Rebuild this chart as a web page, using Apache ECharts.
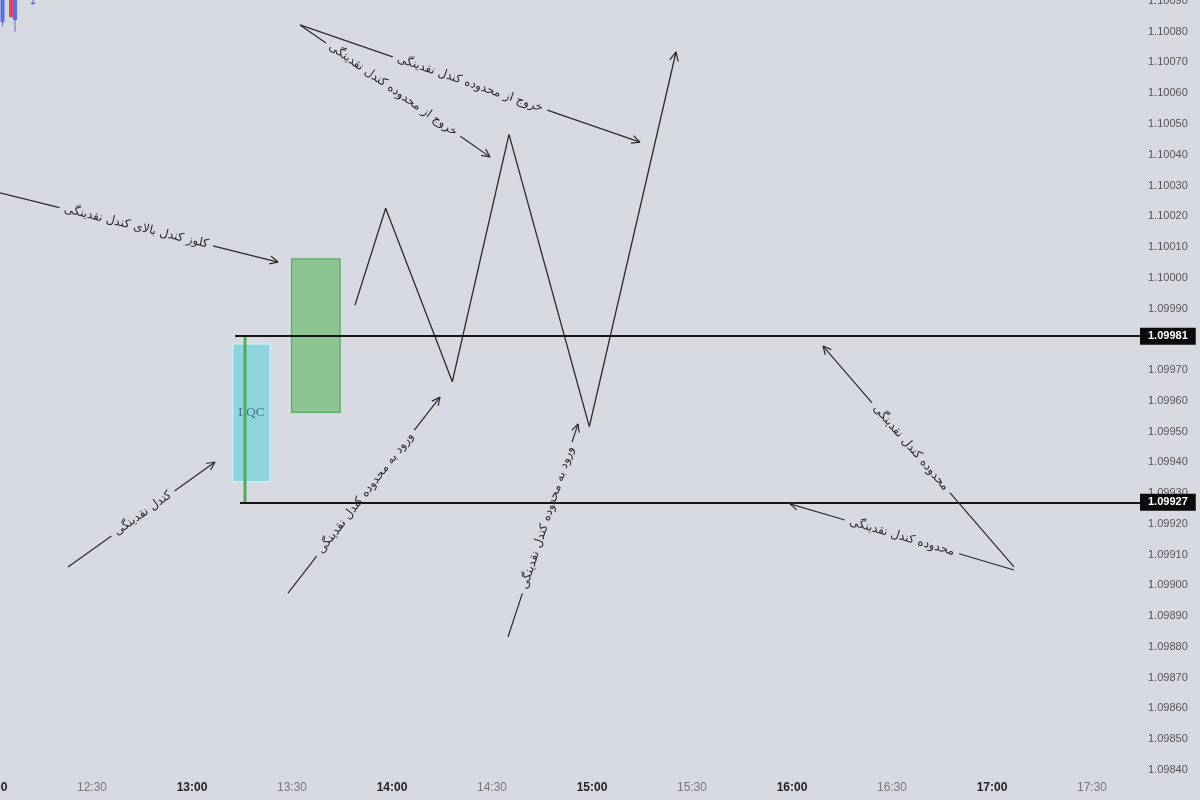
<!DOCTYPE html>
<html><head><meta charset="utf-8">
<script src="https://cdn.jsdelivr.net/npm/echarts@6/dist/echarts.min.js"></script>
<style>html,body{margin:0;padding:0;background:#d6d9e0}#c{width:1200px;height:800px}</style>
</head><body><div id="c"></div>
<script>
// Time values are minutes after 12:00
const timeLabels = ['12:00','12:30','13:00','13:30','14:00','14:30','15:00','15:30','16:00','16:30','17:00','17:30'];
const levelValues = [1.09981, 1.09927];
const levelStarts = [72.9, 74.4];
const levelEnd = 344.4;
const zigzagTimes  = [108.9, 118.1, 138.1, 155.1, 179.2, 205.2];
const zigzagPrices = [1.099911, 1.100226, 1.099662, 1.100466, 1.099516, 1.100734];
const candleTimes = [3.15, 5.7, 6.9, 12.3];
const candleOpen  = [1.100831, 1.10110, 1.100838, 1.100890];
const candleClose = [1.10110, 1.100848, 1.10110, 1.100895];
const candleLow   = [1.100818, 1.100845, 1.100800, 1.100887];
const candleHigh  = [1.10120, 1.10120, 1.10120, 1.10120];
const boxNames  = ['LQC', ''];
const boxFrom   = [72.2, 89.9];
const boxTo     = [83.4, 104.4];
const boxTop    = [1.099785, 1.100061];
const boxBottom = [1.099337, 1.099563];
const wickTime = 75.9;
const annotationTexts = [
  'کلوز کندل بالای کندل نقدینگی',
  'خروج از محدوده کندل نقدینگی',
  'خروج از محدوده کندل نقدینگی',
  'کندل نقدینگی',
  'ورود به محدوده کندل نقدینگی',
  'ورود به محدوده کندل نقدینگی',
  'محدوده کندل نقدینگی',
  'محدوده کندل نقدینگی'
];
const annotationFromTime  = [2.4, 92.4, 92.4, 22.8, 88.8, 154.8, 306.6, 306.6];
const annotationFromPrice = [1.100276, 1.100822, 1.100822, 1.099060, 1.098975, 1.098832, 1.099060, 1.099050];
const annotationToTime    = [85.8, 194.4, 149.4, 66.9, 134.4, 175.8, 249.3, 239.4];
const annotationToPrice   = [1.100051, 1.100441, 1.100393, 1.099401, 1.099612, 1.099525, 1.099778, 1.099265];
const annotationLabelAt   = [0.49, 0.5, 0.49, 0.51, 0.51, 0.56, 0.54, 0.5];

const ANN_FONT = '12px "DejaVu Sans"';
const mctx = document.createElement('canvas').getContext('2d');
mctx.font = ANN_FONT;
function measure(t){ return mctx.measureText(t).width; }
const INK = '#2b2b2b';
function seg(a, b, w){ return {type:'line', shape:{x1:a[0],y1:a[1],x2:b[0],y2:b[1]}, style:{stroke:INK, lineWidth:w||1.2}}; }
function head(p, ang, len){
  return [
    seg(p, [p[0]-len*Math.cos(ang-0.45), p[1]-len*Math.sin(ang-0.45)]),
    seg(p, [p[0]-len*Math.cos(ang+0.45), p[1]-len*Math.sin(ang+0.45)])
  ];
}

const chart = echarts.init(document.getElementById('c'));
const option = {
  backgroundColor: '#d6d9e0',
  animation: false,
  grid: {left: -8, right: 60, top: -29.84, bottom: -0.67, containLabel: false, outerBoundsMode: 'none'},
  xAxis: {
    type: 'value', min: 0, max: levelEnd, interval: 30, offset: -22,
    axisLine: {show: false}, axisTick: {show: false}, splitLine: {show: false},
    axisLabel: {
      margin: 3, showMinLabel: true, showMaxLabel: false, hideOverlap: false,
      formatter: function(v){
        const i = Math.round(v / 30);
        const s = timeLabels[i] || '';
        return (i % 2 === 0) ? '{b|' + s + '}' : '{n|' + s + '}';
      },
      rich: {
        b: {fontFamily: 'Liberation Sans', fontSize: 12, fontWeight: 'bold', color: '#222'},
        n: {fontFamily: 'Liberation Sans', fontSize: 12, color: '#777'}
      }
    }
  },
  yAxis: {
    type: 'value', position: 'right', min: 1.0983, max: 1.1010, interval: 0.0001,
    axisLine: {show: false}, axisTick: {show: false}, splitLine: {show: false},
    axisLabel: {
      margin: 8, showMinLabel: false, showMaxLabel: false,
      fontFamily: 'Liberation Sans', fontSize: 11, color: '#555',
      formatter: function(v){ return v.toFixed(5); }
    }
  },
  series: [
    {
      type: 'custom', name: 'candles', z: 2,
      data: candleTimes.map((t, i) => [t, candleOpen[i], candleClose[i], candleLow[i], candleHigh[i]]),
      renderItem: function(params, api){
        const t = api.value(0);
        const o = api.coord([t, api.value(1)]), c = api.coord([t, api.value(2)]);
        const l = api.coord([t, api.value(3)]), h = api.coord([t, api.value(4)]);
        const up = api.value(2) >= api.value(1);
        const col = up ? '#5a6ee6' : '#e0435f';
        const top = Math.min(o[1], c[1]), bot = Math.max(o[1], c[1]);
        return {type:'group', children:[
          {type:'line', shape:{x1:o[0], y1:h[1], x2:o[0], y2:l[1]}, style:{stroke:col, lineWidth:1}},
          {type:'rect', shape:{x:o[0]-2, y:top, width:4, height:Math.max(1, bot-top)}, style:{fill:col}}
        ]};
      }
    },
    {
      type: 'custom', name: 'boxes', z: 2,
      data: boxFrom.map((f, i) => [f, boxTop[i], boxTo[i], boxBottom[i]]),
      renderItem: function(params, api){
        const i = params.dataIndex;
        const a = api.coord([api.value(0), api.value(1)]);
        const b = api.coord([api.value(2), api.value(3)]);
        const isLqc = i === 0;
        const children = [{
          type:'rect',
          shape:{x:a[0], y:a[1], width:b[0]-a[0], height:b[1]-a[1]},
          style: isLqc ? {fill:'#8fd3df', stroke:'#c8edf3', lineWidth:1.5}
                       : {fill:'#8cc592', stroke:'#5fae6c', lineWidth:1.5}
        }];
        if (boxNames[i]) {
          children.push({type:'text', x:(a[0]+b[0])/2, y:(a[1]+b[1])/2,
            style:{text:boxNames[i], fill:'#3f7088', fontSize:13, fontFamily:'Liberation Serif', align:'center', verticalAlign:'middle'}});
        }
        return {type:'group', children};
      }
    },
    {
      type: 'line', name: 'wick', z: 3, showSymbol: false, silent: true,
      data: [[wickTime, levelValues[0]], [wickTime, levelValues[1]]],
      lineStyle: {color: '#4caf50', width: 3}
    },
    {
      type: 'line', name: 'zigzag', z: 4, showSymbol: false, silent: true,
      data: zigzagTimes.map((t, i) => [t, zigzagPrices[i]]),
      lineStyle: {color: INK, width: 1.3},
      markLine: {
        silent: true, symbol: ['none', 'none'], animation: false,
        lineStyle: {color: '#151515', width: 2, type: 'solid'},
        label: {
          show: true, position: 'end', distance: 0,
          formatter: function(p){ return levelValues[p.dataIndex].toFixed(5); },
          backgroundColor: '#0a0a0a', color: '#fff', fontFamily: 'Liberation Sans',
          fontSize: 11, fontWeight: 'bold', padding: [3, 8, 3, 8]
        },
        data: levelValues.map((v, i) => [{coord: [levelStarts[i], v]}, {coord: [levelEnd, v]}])
      }
    },
    {
      type: 'custom', name: 'zigzagHead', z: 4,
      data: [[zigzagTimes[4], zigzagPrices[4], zigzagTimes[5], zigzagPrices[5]]],
      renderItem: function(params, api){
        const p1 = api.coord([api.value(0), api.value(1)]);
        const p2 = api.coord([api.value(2), api.value(3)]);
        const ang = Math.atan2(p2[1]-p1[1], p2[0]-p1[0]);
        return {type:'group', children: head(p2, ang, 10)};
      }
    },
    {
      type: 'custom', name: 'annotations', z: 5,
      data: annotationFromTime.map((t, i) => [t, annotationFromPrice[i], annotationToTime[i], annotationToPrice[i], annotationLabelAt[i]]),
      renderItem: function(params, api){
        const i = params.dataIndex;
        const p1 = api.coord([api.value(0), api.value(1)]);
        const p2 = api.coord([api.value(2), api.value(3)]);
        const t = api.value(4);
        const dx = p2[0]-p1[0], dy = p2[1]-p1[1];
        const L = Math.hypot(dx, dy), ux = dx/L, uy = dy/L;
        const text = annotationTexts[i];
        const half = measure(text)/2 + 5;
        const cx = p1[0] + dx*t, cy = p1[1] + dy*t;
        const g1 = [cx - ux*half, cy - uy*half], g2 = [cx + ux*half, cy + uy*half];
        const dir = Math.atan2(dy, dx);
        let ang = dir;
        if (ang > Math.PI/2) ang -= Math.PI; else if (ang < -Math.PI/2) ang += Math.PI;
        const children = [seg(p1, g1), seg(g2, p2)].concat(head(p2, dir, 9));
        children.push({type:'text', x:cx, y:cy, rotation:-ang,
          style:{text:text, fill:'#2a2a2a', font:ANN_FONT, align:'center', verticalAlign:'middle'}});
        return {type:'group', children};
      }
    }
  ]
};
chart.setOption(option);
</script>
</body></html>
